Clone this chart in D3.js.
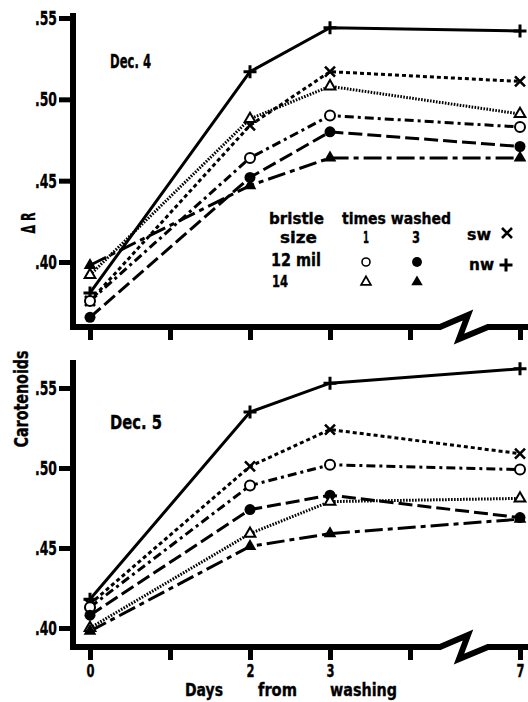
<!DOCTYPE html>
<html>
<head>
<meta charset="utf-8">
<script src="https://cdn.jsdelivr.net/npm/d3@7"></script>
<style>
  body { margin: 0; background: #fff; }
  text { font-family: 'Liberation Sans Narrow', 'DejaVu Sans Condensed', sans-serif; font-weight: bold; fill: #000; stroke: #000; stroke-width: 0.35; }
</style>
</head>
<body>
<div id="chart"></div>
<script>
// days on the x axis (axis is broken between 4 and 7)
const days = [0, 2, 3, 7];
const xTicks = [0, 1, 2, 3, 4, 7];
const xTickLabels = [0, 2, 3, 7];
const yTicks = [0.40, 0.45, 0.50, 0.55];

// Dec. 4 — delta R
const dec4_nw = [0.381, 0.517, 0.544, 0.542];
const dec4_sw = [0.376, 0.484, 0.517, 0.511];
const dec4_12mil_1 = [0.376, 0.464, 0.490, 0.483];
const dec4_12mil_3 = [0.366, 0.452, 0.480, 0.471];
const dec4_14_1 = [0.392, 0.488, 0.508, 0.491];
const dec4_14_3 = [0.398, 0.447, 0.464, 0.464];

// Dec. 5 — carotenoids
const dec5_nw = [0.418, 0.535, 0.553, 0.562];
const dec5_sw = [0.415, 0.501, 0.524, 0.509];
const dec5_12mil_1 = [0.413, 0.489, 0.502, 0.499];
const dec5_12mil_3 = [0.408, 0.474, 0.483, 0.469];
const dec5_14_1 = [0.400, 0.459, 0.479, 0.481];
const dec5_14_3 = [0.398, 0.451, 0.459, 0.468];

const seriesKeys = ["nw", "sw", "12mil_1", "12mil_3", "14_1", "14_3"];
const styles = {
  "nw":      { dash: null,        marker: "plus" },
  "sw":      { dash: "4,3",       marker: "cross" },
  "12mil_1": { dash: "9,4,3,4",   marker: "circle" },
  "12mil_3": { dash: "14,5",      marker: "dot" },
  "14_1":    { dash: "1.6,1.4",   marker: "tri" },
  "14_3":    { dash: "18,5,5,5",  marker: "ftri" }
};

const W = 528, H = 702;
const svg = d3.select("#chart").append("svg")
  .attr("width", W).attr("height", H);

const x = d3.scaleLinear().domain([0, 4, 7]).range([90, 410, 520]);
const axisX = 73;

const panels = [
  { title: "Dec. 4", titleLen: 41, top: 13, base: 327, labels: false, titleY: 68,
    y: d3.scaleLinear().domain([0.40, 0.55]).range([262, 18]),
    data: { "nw": dec4_nw, "sw": dec4_sw, "12mil_1": dec4_12mil_1, "12mil_3": dec4_12mil_3, "14_1": dec4_14_1, "14_3": dec4_14_3 } },
  { title: "Dec. 5", titleLen: 52, top: 360, base: 647, labels: true, titleY: 429,
    y: d3.scaleLinear().domain([0.40, 0.55]).range([628, 388]),
    data: { "nw": dec5_nw, "sw": dec5_sw, "12mil_1": dec5_12mil_1, "12mil_3": dec5_12mil_3, "14_1": dec5_14_1, "14_3": dec5_14_3 } }
];

// condensed text: squeeze glyphs to the width seen in the scan
function label(parent, str, tx, ty, size, len, anchor) {
  const t = parent.append("text").attr("x", tx).attr("y", ty)
    .attr("font-size", size).text(str);
  if (len) t.attr("textLength", len).attr("lengthAdjust", "spacingAndGlyphs");
  if (anchor) t.attr("text-anchor", anchor);
  return t;
}

function drawMarker(g, type, cx, cy, s) {
  s = s || 1;
  const m = g.append("g").attr("transform", `translate(${cx},${cy}) scale(${s})`);
  if (type === "plus") {
    m.append("path").attr("d", "M-6.5,0H6.5M0,-6.5V6.5")
      .attr("stroke", "#000").attr("stroke-width", 3);
  } else if (type === "cross") {
    m.append("path").attr("d", "M-5,-5L5,5M-5,5L5,-5")
      .attr("stroke", "#000").attr("stroke-width", 2.6);
  } else if (type === "circle") {
    m.append("circle").attr("r", 5).attr("fill", "#fff")
      .attr("stroke", "#000").attr("stroke-width", 2);
  } else if (type === "dot") {
    m.append("circle").attr("r", 5.5).attr("fill", "#000");
  } else if (type === "tri") {
    m.append("path").attr("d", d3.symbol(d3.symbolTriangle, 50)())
      .attr("fill", "#fff").attr("stroke", "#000").attr("stroke-width", 2);
  } else if (type === "ftri") {
    m.append("path").attr("d", d3.symbol(d3.symbolTriangle, 70)())
      .attr("fill", "#000");
  }
}

panels.forEach(p => {
  const g = svg.append("g");
  const y = p.y;

  // y ticks
  const yAxis = d3.axisLeft(y).tickValues(yTicks).tickSize(14).tickPadding(2)
    .tickFormat(d => d3.format(".2f")(d).slice(1));
  const ya = g.append("g").attr("transform", `translate(${axisX},0)`).call(yAxis);
  ya.attr("font-family", null).attr("font-size", null);
  ya.select(".domain").remove();
  ya.selectAll(".tick line").attr("stroke-width", 5);
  ya.selectAll(".tick text").attr("font-size", 20).attr("fill", "#000")
    .attr("textLength", 22).attr("lengthAdjust", "spacingAndGlyphs");

  // x ticks
  const xAxis = d3.axisBottom(x).tickValues(xTicks).tickSize(13).tickPadding(4)
    .tickFormat(d => p.labels && xTickLabels.includes(d) ? d : "");
  const xa = g.append("g").attr("transform", `translate(0,${p.base})`).call(xAxis);
  xa.attr("font-family", null).attr("font-size", null);
  xa.select(".domain").remove();
  xa.selectAll(".tick line").attr("stroke-width", 5);
  xa.selectAll(".tick text").attr("font-size", 18).attr("fill", "#000")
    .filter(d => p.labels && xTickLabels.includes(d))
    .attr("textLength", 8).attr("lengthAdjust", "spacingAndGlyphs");

  // frame with break
  const b = p.base, xb = x(4) + 30;
  g.append("path")
    .attr("d", `M${axisX},${p.top}V${b + 3}`)
    .attr("stroke", "#000").attr("stroke-width", 6).attr("fill", "none");
  g.append("path")
    .attr("d", `M${axisX - 3},${b}H${xb}L${xb + 28},${b - 12}L${xb + 19},${b + 12}L${xb + 48},${b}H${W}`)
    .attr("stroke", "#000").attr("stroke-width", 6).attr("fill", "none")
    .attr("stroke-linejoin", "miter");

  // lines
  const line = d3.line().x((d, i) => x(days[i])).y(d => y(d));
  seriesKeys.forEach(k => {
    g.append("path").datum(p.data[k])
      .attr("d", line)
      .attr("fill", "none").attr("stroke", "#000").attr("stroke-width", 3)
      .attr("stroke-dasharray", styles[k].dash);
  });
  // markers
  seriesKeys.forEach(k => {
    p.data[k].forEach((v, i) => drawMarker(g, styles[k].marker, x(days[i]), y(v)));
  });

  label(g, p.title, 110, p.titleY, 20, p.titleLen);
});

// axis titles
label(svg, "Δ R", 0, 0, 20, 21, "middle").attr("transform", "translate(35,223) rotate(-90)");
label(svg, "Carotenoids", 0, 0, 19, 97, "middle").attr("transform", "translate(28,399) rotate(-90)");
label(svg, "Days", 185, 696, 18, 38);
label(svg, "from", 258, 696, 18, 39);
label(svg, "washing", 330, 696, 18, 67);

// legend
const lg = svg.append("g");
label(lg, "bristle", 269, 224, 16, 55);
label(lg, "times washed", 342, 224, 16, 109);
label(lg, "size", 280, 243, 16, 37);
label(lg, "1", 366, 243, 16, 6, "middle");
label(lg, "3", 416, 243, 16, 8, "middle");
label(lg, "sw", 467, 240, 16, 24);
label(lg, "12 mil", 271, 266, 17, 50);
label(lg, "nw", 469, 270, 16, 25);
label(lg, "14", 272, 287, 15, 16);
drawMarker(svg, "cross", 507, 233);
drawMarker(svg, "plus", 506, 265);
drawMarker(svg, "circle", 366, 262, 0.8);
drawMarker(svg, "dot", 417, 262, 0.9);
drawMarker(svg, "tri", 366, 282, 0.9);
drawMarker(svg, "ftri", 417, 282, 0.9);
</script>
</body>
</html>
